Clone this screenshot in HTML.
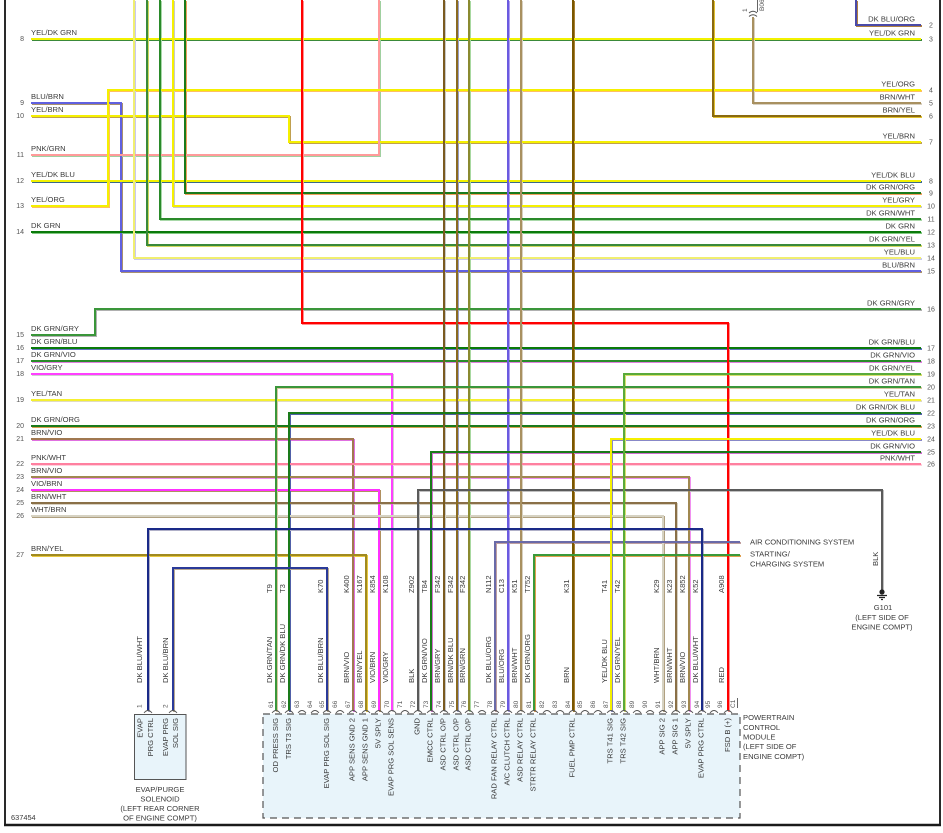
<!DOCTYPE html>
<html><head><meta charset="utf-8"><style>
html,body{margin:0;padding:0;background:#fff;width:943px;height:833px;overflow:hidden}
svg{display:block}
text{font-family:"Liberation Sans",Arial,sans-serif;font-size:7.6px;fill:#3a3a3a}
.n{font-size:7px;fill:#555}
.p{font-size:6.5px;fill:#555}
.e{text-anchor:end}
.m{text-anchor:middle}
path{fill:none}
</style></head><body>
<svg width="943" height="833" viewBox="0 0 943 833" xmlns="http://www.w3.org/2000/svg">
<rect width="943" height="833" fill="#fff"/>
<!-- boxes -->
<rect x="263" y="714" width="477" height="104" fill="#e8f4fa" stroke="#555" stroke-width="1.2" stroke-dasharray="7,5"/>
<rect x="134.5" y="714.5" width="51.5" height="65" fill="#e8f4fa" stroke="#555" stroke-width="1"/>

<!-- stripes -->
<g transform="translate(1 1)" stroke-width="2" shape-rendering="crispEdges">
<path stroke="#3a8a3a" d="M31 39H921"/>
<path stroke="#a89070" d="M31 103H121V271H921"/>
<path stroke="#c0a050" d="M31 116H289V142H921"/>
<path stroke="#a0d0a0" d="M31 155H379V0"/>
<path stroke="#3a6a8a" d="M31 181H921"/>
<path stroke="#ffc060" d="M31 206H108V90H921"/>
<path stroke="#80c880" d="M31 232H921"/>
<path stroke="#b0b0b0" d="M31 335H95V309H921"/>
<path stroke="#6070c0" d="M31 348H921"/>
<path stroke="#e080e0" d="M31 361H921"/>
<path stroke="#d0d0d0" d="M31 374H392V711"/>
<path stroke="#e0dcc0" d="M31 400H921"/>
<path stroke="#d8a050" d="M31 426H921"/>
<path stroke="#e070e0" d="M31 439H353V711"/>
<path stroke="#ffd0dc" d="M31 464H921"/>
<path stroke="#f090f0" d="M31 477H689V711"/>
<path stroke="#b09060" d="M31 490H379V711"/>
<path stroke="#d8d0c0" d="M31 503H676V711"/>
<path stroke="#b0a080" d="M31 516H663V711"/>
<path stroke="#e8c840" d="M31 555H366V711"/>
<path stroke="#c8c8f0" d="M134 0V258H921"/>
<path stroke="#d0d860" d="M147 0V245H921"/>
<path stroke="#a8d8a8" d="M160 0V219H921"/>
<path stroke="#c8c8c8" d="M173 0V206H921"/>
<path stroke="#f0a060" d="M185 0V193H921"/>
<path stroke="#ff9090" d="M302 0V323H728V711"/>
<path stroke="#c8c8c8" d="M444 0V711"/>
<path stroke="#9aa0c8" d="M457 0V711"/>
<path stroke="#a8d8a0" d="M469 0V711"/>
<path stroke="#b0a0f0" d="M508 0V711"/>
<path stroke="#d8d0c0" d="M521 0V711"/>
<path stroke="#a88030" d="M573 0V711"/>
<path stroke="#e0c030" d="M713 0V116H921"/>
<path stroke="#d8d0c0" d="M753 17V103H921"/>
<path stroke="#b08040" d="M856 0V25H921"/>
<path stroke="#d8c8a0" d="M276 711V387H921"/>
<path stroke="#5060a8" d="M289 711V413H921"/>
<path stroke="#b8a890" d="M327 711V568H173V711"/>
<path stroke="#c0c0c0" d="M418 711V490H882V590"/>
<path stroke="#d070d0" d="M431 711V452H921"/>
<path stroke="#c0a0a0" d="M495 711V542H740"/>
<path stroke="#e0a050" d="M534 711V555H740"/>
<path stroke="#8888c8" d="M611 711V439H921"/>
<path stroke="#d8e070" d="M624 711V374H921"/>
<path stroke="#b0b0c8" d="M702 711V529H148V711"/>
</g>
<!-- base colours -->
<g stroke-width="2" shape-rendering="crispEdges">
<path stroke="#f2f200" d="M31 39H921"/>
<path stroke="#6060e0" d="M31 103H121V271H921"/>
<path stroke="#f5f000" d="M31 116H289V142H921"/>
<path stroke="#ff9a9a" d="M31 155H379V0"/>
<path stroke="#f2f200" d="M31 181H921"/>
<path stroke="#f5f000" d="M31 206H108V90H921"/>
<path stroke="#0a7a0a" d="M31 232H921"/>
<path stroke="#3a963a" d="M31 335H95V309H921"/>
<path stroke="#0a7a0a" d="M31 348H921"/>
<path stroke="#2a8a2a" d="M31 361H921"/>
<path stroke="#ff40ff" d="M31 374H392V711"/>
<path stroke="#f5f030" d="M31 400H921"/>
<path stroke="#1a7a1a" d="M31 426H921"/>
<path stroke="#a07850" d="M31 439H353V711"/>
<path stroke="#ff80a0" d="M31 464H921"/>
<path stroke="#a08850" d="M31 477H689V711"/>
<path stroke="#ff30ff" d="M31 490H379V711"/>
<path stroke="#8a7048" d="M31 503H676V711"/>
<path stroke="#d6d2c2" d="M31 516H663V711"/>
<path stroke="#a08a20" d="M31 555H366V711"/>
<path stroke="#f0ee70" d="M134 0V258H921"/>
<path stroke="#3a8a3a" d="M147 0V245H921"/>
<path stroke="#2a8a2a" d="M160 0V219H921"/>
<path stroke="#f5f000" d="M173 0V206H921"/>
<path stroke="#1a7a1a" d="M185 0V193H921"/>
<path stroke="#ff0000" d="M302 0V323H728V711"/>
<path stroke="#7a5a20" d="M444 0V711"/>
<path stroke="#8a6a20" d="M457 0V711"/>
<path stroke="#8a8a30" d="M469 0V711"/>
<path stroke="#6a5ae0" d="M508 0V711"/>
<path stroke="#a89060" d="M521 0V711"/>
<path stroke="#7a5600" d="M573 0V711"/>
<path stroke="#8a6a10" d="M713 0V116H921"/>
<path stroke="#a89060" d="M753 17V103H921"/>
<path stroke="#4a4aa8" d="M856 0V25H921"/>
<path stroke="#3a963a" d="M276 711V387H921"/>
<path stroke="#1a7a1a" d="M289 711V413H921"/>
<path stroke="#2a3a98" d="M327 711V568H173V711"/>
<path stroke="#5a5a5a" d="M418 711V490H882V590"/>
<path stroke="#1a7a1a" d="M431 711V452H921"/>
<path stroke="#6a6aa8" d="M495 711V542H740"/>
<path stroke="#3a9a3a" d="M534 711V555H740"/>
<path stroke="#f5f000" d="M611 711V439H921"/>
<path stroke="#5aaa3a" d="M624 711V374H921"/>
<path stroke="#1a2a88" d="M702 711V529H148V711"/>
</g>

<!-- frame -->
<path stroke="#2a2a2a" stroke-width="2" d="M5 0V825"/>
<path stroke="#2a2a2a" stroke-width="2" d="M940 0V825"/>
<path stroke="#1a1a1a" stroke-width="2.5" d="M4 825H941"/>

<!-- arrows -->
<path d="M741 538L748 542L741 546Z" fill="#111" stroke="none"/>
<path d="M741 551L748 555L741 559Z" fill="#111" stroke="none"/>
<!-- ground -->
<circle cx="882" cy="592" r="2.6" fill="#222"/>
<path stroke="#222" stroke-width="1.2" d="M877 595.5H887M879 597.5H885M881 599.5H883"/>
<!-- top connector -->
<path stroke="#555" stroke-width="0.9" d="M749 13Q753 9.5 757 13M749 16.5Q753 13 757 16.5M757.5 0V12"/>
<text class="p" transform="translate(747 12) rotate(-90)">1</text>
<text class="p" transform="translate(764 11) rotate(-90)">B06</text>

<!-- notches -->
<g stroke="#555" stroke-width="0.9">
<path d="M144 713q4 -5 8 0M169 713q4 -5 8 0"/>
<path d="M272 713q4 -5 8 0M285 713q4 -5 8 0M298 713q4 -5 8 0M311 713q4 -5 8 0M323 713q4 -5 8 0M336 713q4 -5 8 0M349 713q4 -5 8 0M362 713q4 -5 8 0M375 713q4 -5 8 0M388 713q4 -5 8 0M401 713q4 -5 8 0M414 713q4 -5 8 0M427 713q4 -5 8 0M440 713q4 -5 8 0M453 713q4 -5 8 0M465 713q4 -5 8 0M478 713q4 -5 8 0M491 713q4 -5 8 0M504 713q4 -5 8 0M517 713q4 -5 8 0M530 713q4 -5 8 0M543 713q4 -5 8 0M556 713q4 -5 8 0M569 713q4 -5 8 0M581 713q4 -5 8 0M594 713q4 -5 8 0M607 713q4 -5 8 0M620 713q4 -5 8 0M633 713q4 -5 8 0M646 713q4 -5 8 0M659 713q4 -5 8 0M672 713q4 -5 8 0M685 713q4 -5 8 0M698 713q4 -5 8 0M710 713q4 -5 8 0M724 713q4 -5 8 0"/>
<path d="M737.5 698V708"/>
</g>

<!-- left labels -->
<text x="31" y="35">YEL/DK GRN</text>
<text x="31" y="99">BLU/BRN</text>
<text x="31" y="112">YEL/BRN</text>
<text x="31" y="151">PNK/GRN</text>
<text x="31" y="177">YEL/DK BLU</text>
<text x="31" y="202">YEL/ORG</text>
<text x="31" y="228">DK GRN</text>
<text x="31" y="331">DK GRN/GRY</text>
<text x="31" y="344">DK GRN/BLU</text>
<text x="31" y="357">DK GRN/VIO</text>
<text x="31" y="370">VIO/GRY</text>
<text x="31" y="396">YEL/TAN</text>
<text x="31" y="422">DK GRN/ORG</text>
<text x="31" y="435">BRN/VIO</text>
<text x="31" y="460">PNK/WHT</text>
<text x="31" y="473">BRN/VIO</text>
<text x="31" y="486">VIO/BRN</text>
<text x="31" y="499">BRN/WHT</text>
<text x="31" y="512">WHT/BRN</text>
<text x="31" y="551">BRN/YEL</text>
<!-- left numbers -->
<g class="n e">
<text class="n e" x="24" y="41">8</text>
<text class="n e" x="24" y="105">9</text>
<text class="n e" x="24" y="118">10</text>
<text class="n e" x="24" y="157">11</text>
<text class="n e" x="24" y="183">12</text>
<text class="n e" x="24" y="208">13</text>
<text class="n e" x="24" y="234">14</text>
<text class="n e" x="24" y="337">15</text>
<text class="n e" x="24" y="350">16</text>
<text class="n e" x="24" y="363">17</text>
<text class="n e" x="24" y="376">18</text>
<text class="n e" x="24" y="402">19</text>
<text class="n e" x="24" y="428">20</text>
<text class="n e" x="24" y="441">21</text>
<text class="n e" x="24" y="466">22</text>
<text class="n e" x="24" y="479">23</text>
<text class="n e" x="24" y="492">24</text>
<text class="n e" x="24" y="505">25</text>
<text class="n e" x="24" y="518">26</text>
<text class="n e" x="24" y="557">27</text>
</g>
<!-- right labels -->
<text class="e" x="915" y="21.5">DK BLU/ORG</text>
<text class="e" x="915" y="35.5">YEL/DK GRN</text>
<text class="e" x="915" y="86.5">YEL/ORG</text>
<text class="e" x="915" y="99.5">BRN/WHT</text>
<text class="e" x="915" y="112.5">BRN/YEL</text>
<text class="e" x="915" y="138.5">YEL/BRN</text>
<text class="e" x="915" y="177.5">YEL/DK BLU</text>
<text class="e" x="915" y="189.5">DK GRN/ORG</text>
<text class="e" x="915" y="202.5">YEL/GRY</text>
<text class="e" x="915" y="215.5">DK GRN/WHT</text>
<text class="e" x="915" y="228.5">DK GRN</text>
<text class="e" x="915" y="241.5">DK GRN/YEL</text>
<text class="e" x="915" y="254.5">YEL/BLU</text>
<text class="e" x="915" y="267.5">BLU/BRN</text>
<text class="e" x="915" y="305.5">DK GRN/GRY</text>
<text class="e" x="915" y="344.5">DK GRN/BLU</text>
<text class="e" x="915" y="357.5">DK GRN/VIO</text>
<text class="e" x="915" y="370.5">DK GRN/YEL</text>
<text class="e" x="915" y="383.5">DK GRN/TAN</text>
<text class="e" x="915" y="396.5">YEL/TAN</text>
<text class="e" x="915" y="409.5">DK GRN/DK BLU</text>
<text class="e" x="915" y="422.5">DK GRN/ORG</text>
<text class="e" x="915" y="435.5">YEL/DK BLU</text>
<text class="e" x="915" y="448.5">DK GRN/VIO</text>
<text class="e" x="915" y="460.5">PNK/WHT</text>
<!-- right numbers -->
<text class="n m" x="931" y="27.5">2</text>
<text class="n m" x="931" y="41.5">3</text>
<text class="n m" x="931" y="92.5">4</text>
<text class="n m" x="931" y="105.5">5</text>
<text class="n m" x="931" y="118.5">6</text>
<text class="n m" x="931" y="144.5">7</text>
<text class="n m" x="931" y="183.5">8</text>
<text class="n m" x="931" y="195.5">9</text>
<text class="n m" x="931" y="208.5">10</text>
<text class="n m" x="931" y="221.5">11</text>
<text class="n m" x="931" y="234.5">12</text>
<text class="n m" x="931" y="247.5">13</text>
<text class="n m" x="931" y="260.5">14</text>
<text class="n m" x="931" y="273.5">15</text>
<text class="n m" x="931" y="311.5">16</text>
<text class="n m" x="931" y="350.5">17</text>
<text class="n m" x="931" y="363.5">18</text>
<text class="n m" x="931" y="376.5">19</text>
<text class="n m" x="931" y="389.5">20</text>
<text class="n m" x="931" y="402.5">21</text>
<text class="n m" x="931" y="415.5">22</text>
<text class="n m" x="931" y="428.5">23</text>
<text class="n m" x="931" y="441.5">24</text>
<text class="n m" x="931" y="454.5">25</text>
<text class="n m" x="931" y="466.5">26</text>

<!-- wire color labels (rotated) -->
<text transform="translate(142 683) rotate(-90)">DK BLU/WHT</text>
<text transform="translate(168 683) rotate(-90)">DK BLU/BRN</text>
<text transform="translate(272 683) rotate(-90)">DK GRN/TAN</text>
<text transform="translate(285 683) rotate(-90)">DK GRN/DK BLU</text>
<text transform="translate(323 683) rotate(-90)">DK BLU/BRN</text>
<text transform="translate(349 683) rotate(-90)">BRN/VIO</text>
<text transform="translate(362 683) rotate(-90)">BRN/YEL</text>
<text transform="translate(375 683) rotate(-90)">VIO/BRN</text>
<text transform="translate(388 683) rotate(-90)">VIO/GRY</text>
<text transform="translate(414 683) rotate(-90)">BLK</text>
<text transform="translate(427 683) rotate(-90)">DK GRN/VIO</text>
<text transform="translate(440 683) rotate(-90)">BRN/GRY</text>
<text transform="translate(453 683) rotate(-90)">BRN/DK BLU</text>
<text transform="translate(465 683) rotate(-90)">BRN/GRN</text>
<text transform="translate(491 683) rotate(-90)">DK BLU/ORG</text>
<text transform="translate(504 683) rotate(-90)">BLU/ORG</text>
<text transform="translate(517 683) rotate(-90)">BRN/WHT</text>
<text transform="translate(530 683) rotate(-90)">DK GRN/ORG</text>
<text transform="translate(569 683) rotate(-90)">BRN</text>
<text transform="translate(607 683) rotate(-90)">YEL/DK BLU</text>
<text transform="translate(620 683) rotate(-90)">DK GRN/YEL</text>
<text transform="translate(659 683) rotate(-90)">WHT/BRN</text>
<text transform="translate(672 683) rotate(-90)">BRN/WHT</text>
<text transform="translate(685 683) rotate(-90)">BRN/VIO</text>
<text transform="translate(698 683) rotate(-90)">DK BLU/WHT</text>
<text transform="translate(724 683) rotate(-90)">RED</text>
<!-- circuit ids -->
<text transform="translate(272 593) rotate(-90)">T9</text>
<text transform="translate(285 593) rotate(-90)">T3</text>
<text transform="translate(323 593) rotate(-90)">K70</text>
<text transform="translate(349 593) rotate(-90)">K400</text>
<text transform="translate(362 593) rotate(-90)">K167</text>
<text transform="translate(375 593) rotate(-90)">K854</text>
<text transform="translate(388 593) rotate(-90)">K108</text>
<text transform="translate(414 593) rotate(-90)">Z902</text>
<text transform="translate(427 593) rotate(-90)">T84</text>
<text transform="translate(440 593) rotate(-90)">F342</text>
<text transform="translate(453 593) rotate(-90)">F342</text>
<text transform="translate(465 593) rotate(-90)">F342</text>
<text transform="translate(491 593) rotate(-90)">N112</text>
<text transform="translate(504 593) rotate(-90)">C13</text>
<text transform="translate(517 593) rotate(-90)">K51</text>
<text transform="translate(530 593) rotate(-90)">T752</text>
<text transform="translate(569 593) rotate(-90)">K31</text>
<text transform="translate(607 593) rotate(-90)">T41</text>
<text transform="translate(620 593) rotate(-90)">T42</text>
<text transform="translate(659 593) rotate(-90)">K29</text>
<text transform="translate(672 593) rotate(-90)">K23</text>
<text transform="translate(685 593) rotate(-90)">K852</text>
<text transform="translate(698 593) rotate(-90)">K52</text>
<text transform="translate(724 593) rotate(-90)">A908</text>
<text transform="translate(878 566) rotate(-90)">BLK</text>

<!-- pin numbers -->
<g>
<text class="p" transform="translate(141.5 708) rotate(-90)">1</text>
<text class="p" transform="translate(167.5 708) rotate(-90)">2</text>
<text class="p" transform="translate(273 708) rotate(-90)">61</text>
<text class="p" transform="translate(286 708) rotate(-90)">62</text>
<text class="p" transform="translate(299 708) rotate(-90)">63</text>
<text class="p" transform="translate(312 708) rotate(-90)">64</text>
<text class="p" transform="translate(324 708) rotate(-90)">65</text>
<text class="p" transform="translate(337 708) rotate(-90)">66</text>
<text class="p" transform="translate(350 708) rotate(-90)">67</text>
<text class="p" transform="translate(363 708) rotate(-90)">68</text>
<text class="p" transform="translate(376 708) rotate(-90)">69</text>
<text class="p" transform="translate(389 708) rotate(-90)">70</text>
<text class="p" transform="translate(402 708) rotate(-90)">71</text>
<text class="p" transform="translate(415 708) rotate(-90)">72</text>
<text class="p" transform="translate(428 708) rotate(-90)">73</text>
<text class="p" transform="translate(441 708) rotate(-90)">74</text>
<text class="p" transform="translate(454 708) rotate(-90)">75</text>
<text class="p" transform="translate(466 708) rotate(-90)">76</text>
<text class="p" transform="translate(479 708) rotate(-90)">77</text>
<text class="p" transform="translate(492 708) rotate(-90)">78</text>
<text class="p" transform="translate(505 708) rotate(-90)">79</text>
<text class="p" transform="translate(518 708) rotate(-90)">80</text>
<text class="p" transform="translate(531 708) rotate(-90)">81</text>
<text class="p" transform="translate(544 708) rotate(-90)">82</text>
<text class="p" transform="translate(557 708) rotate(-90)">83</text>
<text class="p" transform="translate(570 708) rotate(-90)">84</text>
<text class="p" transform="translate(582 708) rotate(-90)">85</text>
<text class="p" transform="translate(595 708) rotate(-90)">86</text>
<text class="p" transform="translate(608 708) rotate(-90)">87</text>
<text class="p" transform="translate(621 708) rotate(-90)">88</text>
<text class="p" transform="translate(634 708) rotate(-90)">89</text>
<text class="p" transform="translate(647 708) rotate(-90)">90</text>
<text class="p" transform="translate(660 708) rotate(-90)">91</text>
<text class="p" transform="translate(673 708) rotate(-90)">92</text>
<text class="p" transform="translate(686 708) rotate(-90)">93</text>
<text class="p" transform="translate(699 708) rotate(-90)">94</text>
<text class="p" transform="translate(710 708) rotate(-90)">95</text>
<text class="p" transform="translate(722 708) rotate(-90)">96</text>
<text class="p" transform="translate(735 708) rotate(-90)">C1</text>
</g>

<!-- inside labels -->
<text class="e" transform="translate(142.5 718) rotate(-90)">EVAP</text>
<text class="e" transform="translate(153 718) rotate(-90)">PRG CTRL</text>
<text class="e" transform="translate(168 718) rotate(-90)">EVAP PRG</text>
<text class="e" transform="translate(178 718) rotate(-90)">SOL SIG</text>
<text class="e" transform="translate(278 718) rotate(-90)">OD PRESS SIG</text>
<text class="e" transform="translate(291 718) rotate(-90)">TRS T3 SIG</text>
<text class="e" transform="translate(329 718) rotate(-90)">EVAP PRG SOL SIG</text>
<text class="e" transform="translate(354.5 718) rotate(-90)">APP SENS GND 2</text>
<text class="e" transform="translate(367.5 718) rotate(-90)">APP SENS GND 1</text>
<text class="e" transform="translate(380.5 718) rotate(-90)">5V SPLY</text>
<text class="e" transform="translate(393.5 718) rotate(-90)">EVAP PRG SOL SENS</text>
<text class="e" transform="translate(419.5 718) rotate(-90)">GND</text>
<text class="e" transform="translate(432.5 718) rotate(-90)">EMCC CTRL</text>
<text class="e" transform="translate(445.5 718) rotate(-90)">ASD CTRL O/P</text>
<text class="e" transform="translate(458.5 718) rotate(-90)">ASD CTRL O/P</text>
<text class="e" transform="translate(470.5 718) rotate(-90)">ASD CTRL O/P</text>
<text class="e" transform="translate(496.5 718) rotate(-90)">RAD FAN RELAY CTRL</text>
<text class="e" transform="translate(509.5 718) rotate(-90)">A/C CLUTCH CTRL</text>
<text class="e" transform="translate(522.5 718) rotate(-90)">ASD RELAY CTRL</text>
<text class="e" transform="translate(535.5 718) rotate(-90)">STRTR RELAY CTRL</text>
<text class="e" transform="translate(574.5 718) rotate(-90)">FUEL PMP CTRL</text>
<text class="e" transform="translate(612.5 718) rotate(-90)">TRS T41 SIG</text>
<text class="e" transform="translate(625.5 718) rotate(-90)">TRS T42 SIG</text>
<text class="e" transform="translate(664.5 718) rotate(-90)">APP SIG 2</text>
<text class="e" transform="translate(677.5 718) rotate(-90)">APP SIG 1</text>
<text class="e" transform="translate(690.5 718) rotate(-90)">5V SPLY</text>
<text class="e" transform="translate(703.5 718) rotate(-90)">EVAP PRG CTRL</text>
<text class="e" transform="translate(730 718) rotate(-90)">FSD B (+)</text>

<!-- captions -->
<text class="m" x="160" y="792">EVAP/PURGE</text>
<text class="m" x="160" y="801.5">SOLENOID</text>
<text class="m" x="160" y="811">(LEFT REAR CORNER</text>
<text class="m" x="160" y="820.5">OF ENGINE COMPT)</text>
<text x="743" y="720">POWERTRAIN</text>
<text x="743" y="730">CONTROL</text>
<text x="743" y="739.5">MODULE</text>
<text x="743" y="749">(LEFT SIDE OF</text>
<text x="743" y="759">ENGINE COMPT)</text>
<text x="750" y="544.5">AIR CONDITIONING SYSTEM</text>
<text x="750" y="556.5">STARTING/</text>
<text x="750" y="566.5">CHARGING SYSTEM</text>
<text class="m" x="883" y="610">G101</text>
<text class="m" x="882" y="620">(LEFT SIDE OF</text>
<text class="m" x="882" y="629.5">ENGINE COMPT)</text>
<text x="11" y="820" style="font-size:7.4px">637454</text>
</svg>
</body></html>
